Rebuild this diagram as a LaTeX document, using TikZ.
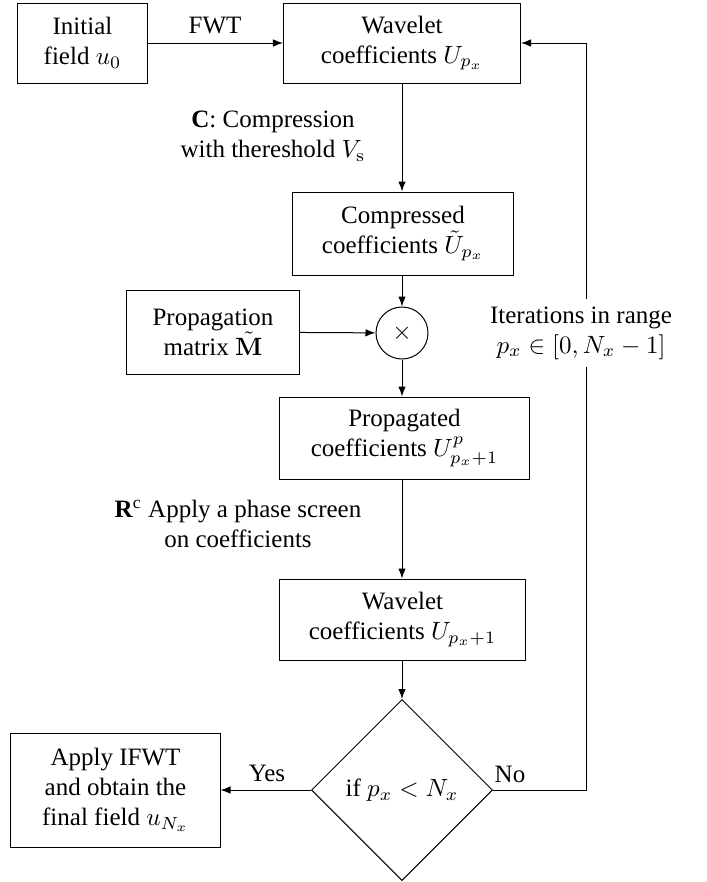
\documentclass[tikz,border=0pt]{standalone}
\usepackage[no-math]{fontspec}
\setmainfont{Liberation Serif}
\usetikzlibrary{shapes.geometric,arrows.meta,calc}
\begin{document}
\begin{tikzpicture}[x=0.4pt,y=-0.4pt,
  box/.style={draw, align=center, inner sep=0pt, line width=0.4pt},
  lbl/.style={align=center, inner sep=0pt},
  arr/.style={-{Latex[length=4pt,width=3pt]}, line width=0.4pt}]
\useasboundingbox (0,0) rectangle (707,882);
\node[box, minimum width=51.6pt, minimum height=32pt] (init) at (82.5,43) {Initial\\field $u_0$};
\node[box, minimum width=94.8pt, minimum height=32pt] (wav1) at (402,43) {Wavelet\\coefficients $U_{p_x}$};
\node[box, minimum width=88pt, minimum height=33.2pt] (comp) at (403,233.5) {Compressed\\coefficients $\tilde{U}_{p_x}$};
\node[box, minimum width=68.8pt, minimum height=33.6pt] (pmat) at (213,332) {Propagation\\matrix $\tilde{\mathbf{M}}$};
\node[draw, circle, line width=0.4pt, minimum size=20.8pt, inner sep=0pt] (mul) at (402,333) {$\times$};
\node[box, minimum width=99.6pt, minimum height=32.8pt] (prop) at (404.5,438) {Propagated\\coefficients $U^{p}_{p_x+1}$};
\node[box, minimum width=98pt, minimum height=32.4pt] (wav2) at (402.5,619.5) {Wavelet\\coefficients $U_{p_x+1}$};
\node[draw, diamond, line width=0.4pt, minimum width=72.4pt, minimum height=72.4pt, inner sep=0pt] (dia) at (402,790) {if $p_x<N_x$};
\node[box, minimum width=83.6pt, minimum height=45.6pt] (fin) at (115.5,790) {Apply IFWT\\and obtain the\\final field $u_{N_x}$};
\coordinate (fb) at (586,43);

\node[lbl] (fwt) at (215,25) {FWT};
\node[lbl] (clbl) at (273,136) {\textbf{C}: Compression\\with thereshold $V_{\mathrm{s}}$};
\node[lbl] (rlbl) at (238,524) {\textbf{R}\textsuperscript{c} Apply a phase screen\\on coefficients};
\node[lbl] (yes) at (267,773) {Yes};
\node[lbl] (no) at (510,774) {No};

\draw[arr] (init) -- (wav1);
\draw[arr] (wav1.south) -- (wav1.south |- comp.north);
\draw[arr] (mul.north |- comp.south) -- (mul.north);
\draw[arr] (pmat) -- (mul);
\draw[arr] (mul.south) -- (mul.south |- prop.north);
\draw[arr] (mul.south |- prop.south) -- (mul.south |- wav2.north);
\draw[arr] (mul.south |- wav2.south) -- (dia.north);
\draw[arr] (dia.west) -- (fin.east);
\draw[arr] (dia.east) -| (fb) -- (wav1.east);
\node[lbl, fill=white, inner sep=3pt] (iter) at (581,333) {Iterations in range\\$p_x\in[0,N_x-1]$};
\end{tikzpicture}
\end{document}
